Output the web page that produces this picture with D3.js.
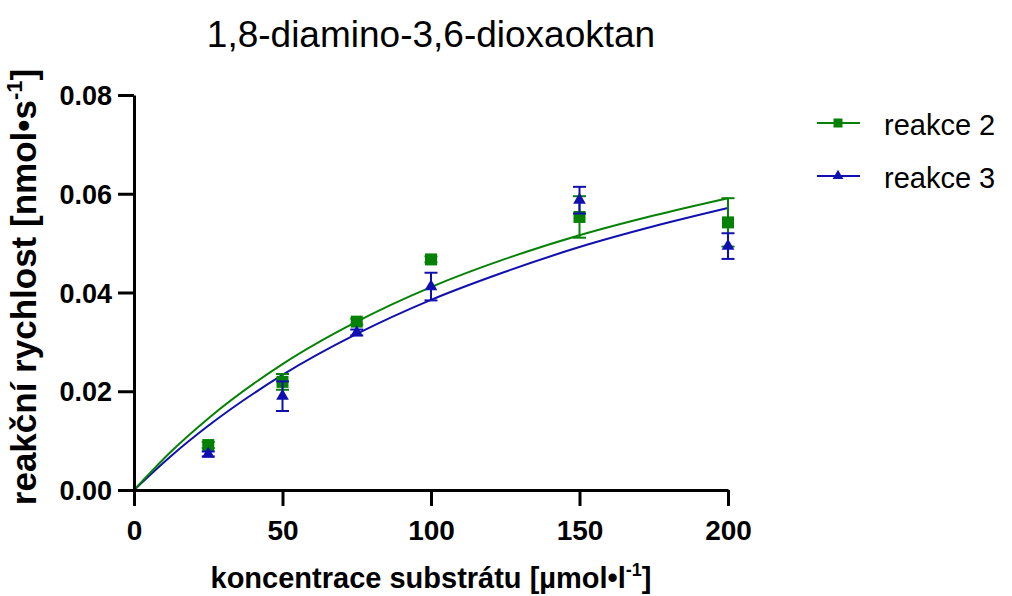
<!DOCTYPE html>
<html>
<head>
<meta charset="utf-8">
<script src="https://cdn.jsdelivr.net/npm/d3@7"></script>
<style>
  body { margin: 0; background: #fff; }
  svg { display: block; font-family: "Liberation Sans", Arial, sans-serif; }
</style>
</head>
<body>
<svg id="chart" width="1012" height="596"></svg>
<script>
// koncentrace substratu (umol/l)
const conc = [25, 50, 75, 100, 150, 200];

// reakce 2 - mean + SD
const r2Mean = [0.0091, 0.0219, 0.0341, 0.0467, 0.0553, 0.0542];
const r2Err  = [0.0006, 0.0016, 0.0006, 0.0006, 0.0042, 0.0049];

// reakce 3 - mean + SD
const r3Mean = [0.0073, 0.0190, 0.0319, 0.0412, 0.0587, 0.0494];
const r3Err  = [0.0005, 0.0030, 0.0006, 0.0028, 0.0027, 0.0026];

// fitted curves
const fitX  = [0, 12.5, 25, 50, 75, 100, 125, 150, 175, 200];
const fitR2 = [0, 0.0078, 0.0145, 0.0255, 0.0341, 0.0411, 0.0468, 0.0516, 0.0556, 0.0591];
const fitR3 = [0, 0.0069, 0.0130, 0.0233, 0.0316, 0.0385, 0.0442, 0.0492, 0.0534, 0.0571];

const xMajor = [0, 50, 100, 150, 200];
const xMinor = [25, 75, 125, 175];
const yMajor = [0, 0.02, 0.04, 0.06, 0.08];
const yMinor = [0.01, 0.03, 0.05, 0.07];

const GREEN = "#058205";
const BLUE = "#1010b0";

const svg = d3.select("#chart");

const x = d3.scaleLinear().domain([0, 200]).range([134, 728]);
const y = d3.scaleLinear().domain([0, 0.08]).range([490, 95]);

// title
svg.append("text")
    .attr("x", 431).attr("y", 47)
    .attr("text-anchor", "middle")
    .attr("font-size", 37)
    .text("1,8-diamino-3,6-dioxaoktan");

// curves
const line = d3.line()
    .x(d => x(d[0]))
    .y(d => y(d[1]))
    .curve(d3.curveMonotoneX);

svg.append("path")
    .datum(fitX.map((v, i) => [v, fitR3[i]]))
    .attr("fill", "none").attr("stroke", BLUE).attr("stroke-width", 2)
    .attr("d", line);

svg.append("path")
    .datum(fitX.map((v, i) => [v, fitR2[i]]))
    .attr("fill", "none").attr("stroke", GREEN).attr("stroke-width", 2)
    .attr("d", line);

const drawSeries = (mean, err, color, symbol, size) => {
    const g = svg.append("g");
    const data = conc.map((c, i) => ({ c: c, m: mean[i], e: err[i] }));

    const eb = g.selectAll(".eb").data(data).enter().append("g")
        .attr("stroke", color).attr("stroke-width", 2);
    eb.append("line")
        .attr("x1", d => x(d.c)).attr("x2", d => x(d.c))
        .attr("y1", d => y(d.m + d.e)).attr("y2", d => y(d.m - d.e));
    eb.append("line")
        .attr("x1", d => x(d.c) - 6.5).attr("x2", d => x(d.c) + 6.5)
        .attr("y1", d => y(d.m + d.e)).attr("y2", d => y(d.m + d.e));
    eb.append("line")
        .attr("x1", d => x(d.c) - 6.5).attr("x2", d => x(d.c) + 6.5)
        .attr("y1", d => y(d.m - d.e)).attr("y2", d => y(d.m - d.e));

    g.selectAll(".pt").data(data).enter().append("path")
        .attr("d", d3.symbol().type(symbol).size(size))
        .attr("transform", d => `translate(${x(d.c)},${y(d.m)})`)
        .attr("fill", color);
};

drawSeries(r2Mean, r2Err, GREEN, d3.symbolSquare, 144);
drawSeries(r3Mean, r3Err, BLUE, d3.symbolTriangle, 70);

// axes
const xAxis = svg.append("g").attr("transform", "translate(0,490)");
xAxis.call(d3.axisBottom(x).tickValues(xMinor).tickSize(9).tickSizeOuter(0).tickFormat(""));
xAxis.call(d3.axisBottom(x).tickValues(xMajor).tickSize(16).tickSizeOuter(0).tickFormat(d3.format("d")));

const yAxis = svg.append("g").attr("transform", "translate(134,0)");
yAxis.call(d3.axisLeft(y).tickValues(yMinor).tickSize(9).tickSizeOuter(0).tickFormat(""));
yAxis.call(d3.axisLeft(y).tickValues(yMajor).tickSize(16).tickSizeOuter(0).tickFormat(d3.format(".2f")));

svg.selectAll(".domain, .tick line")
    .attr("stroke", "#000").attr("stroke-width", 3);

xAxis.selectAll("text")
    .attr("font-size", 28).attr("font-weight", "bold")
    .attr("font-family", "Liberation Sans, Arial, sans-serif")
    .attr("fill", "#000")
    .attr("y", 50).attr("dy", 0);

yAxis.selectAll("text")
    .attr("font-size", 27).attr("font-weight", "bold")
    .attr("font-family", "Liberation Sans, Arial, sans-serif")
    .attr("fill", "#000")
    .attr("x", -22).attr("dy", "0.36em");

// axis titles
const xt = svg.append("text")
    .attr("x", 431).attr("y", 588)
    .attr("text-anchor", "middle")
    .attr("font-size", 29).attr("font-weight", "bold");
xt.append("tspan").text("koncentrace substrátu [µmol•l");
xt.append("tspan").attr("font-size", 18).attr("dy", -12).text("-1");
xt.append("tspan").attr("dy", 12).text("]");

const yt = svg.append("text")
    .attr("transform", "translate(36,287) rotate(-90)")
    .attr("text-anchor", "middle")
    .attr("font-size", 35).attr("font-weight", "bold");
yt.append("tspan").text("reakční rychlost [nmol•s");
yt.append("tspan").attr("font-size", 22).attr("dy", -14).text("-1");
yt.append("tspan").attr("dy", 14).text("]");

// legend
const legendNames = ["reakce 2", "reakce 3"];
const legendColors = [GREEN, BLUE];
const legendSymbols = [d3.symbolSquare, d3.symbolTriangle];
const legendSizes = [81, 50];

const lg = svg.append("g");
legendNames.forEach((name, i) => {
    const ly = 123 + i * 53;
    lg.append("line")
        .attr("x1", 817).attr("x2", 860)
        .attr("y1", ly).attr("y2", ly)
        .attr("stroke", legendColors[i]).attr("stroke-width", 2);
    lg.append("path")
        .attr("d", d3.symbol().type(legendSymbols[i]).size(legendSizes[i]))
        .attr("transform", `translate(838,${ly})`)
        .attr("fill", legendColors[i]);
    lg.append("text")
        .attr("x", 884).attr("y", ly + 12)
        .attr("font-size", 29)
        .text(name);
});
</script>
</body>
</html>
